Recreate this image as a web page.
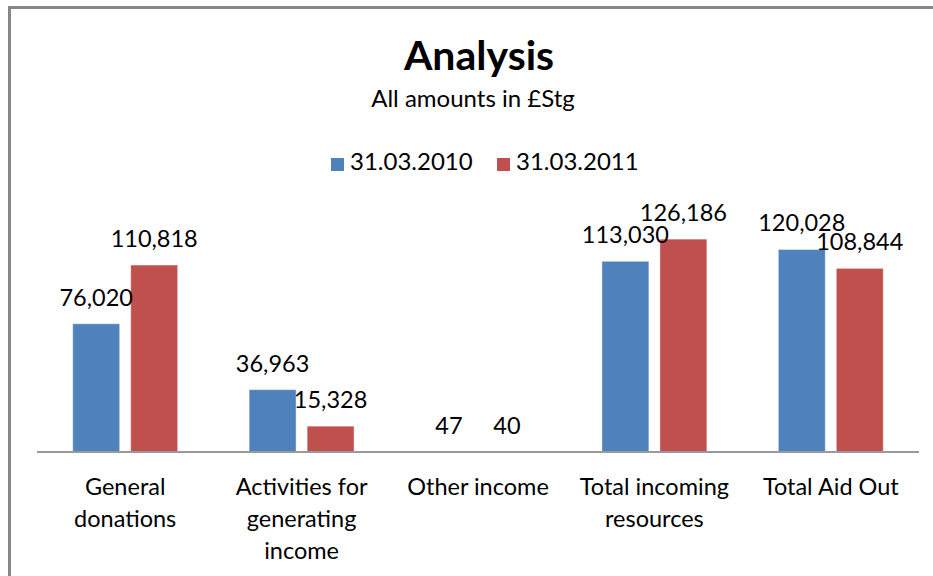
<!DOCTYPE html>
<html>
<head>
<meta charset="utf-8">
<script src="https://cdn.jsdelivr.net/npm/d3@7"></script>
<style>
  body { margin: 0; background: #fff; }
  svg { display: block; font-family: Lato, "Open Sans", sans-serif; }
</style>
</head>
<body>
<div class="chart"></div>
<script>
// data
const categories = [
  ["General", "donations"],
  ["Activities for", "generating", "income"],
  ["Other income"],
  ["Total incoming", "resources"],
  ["Total Aid Out"]
];
const seriesNames = ["31.03.2010", "31.03.2011"];
const values2010 = [76020, 36963, 47, 113030, 120028];
const values2011 = [110818, 15328, 40, 126186, 108844];
const colors = ["#4F81BD", "#C0504D"];

function main() {
  //setting
  const width = 933;
  const height = 576;
  const baseline = 452;
  const plotLeft = 37;
  const plotRight = 919;

  const svg = d3
    .select(".chart")
    .append("svg")
    .attr("width", width)
    .attr("height", height);

  //frame
  svg
    .append("rect")
    .attr("x", 9.5)
    .attr("y", 7.5)
    .attr("width", 1000)
    .attr("height", 1000)
    .style("fill", "#fff")
    .style("stroke", "#878787")
    .style("stroke-width", 3);

  //scales
  const keys = categories.map((d, i) => i);
  const x0 = d3
    .scaleBand()
    .domain(keys)
    .range([plotLeft, plotRight])
    .padding(0);
  const x1 = d3
    .scaleBand()
    .domain([0, 1])
    .range([0, x0.bandwidth()])
    .paddingInner(0.19)
    .paddingOuter(0.616);
  const y = d3
    .scaleLinear()
    .domain([0, 140000])
    .range([baseline, baseline - 236.2]);

  //titles
  svg
    .append("text")
    .attr("x", 479)
    .attr("y", 70)
    .attr("text-anchor", "middle")
    .style("font-size", "41px")
    .style("font-weight", "bold")
    .style("fill", "#000")
    .text("Analysis");
  svg
    .append("text")
    .attr("x", 473)
    .attr("y", 107)
    .attr("text-anchor", "middle")
    .style("font-size", "24px")
    .style("fill", "#000")
    .text("All amounts in £Stg");

  //legend
  const legendX = [331, 497];
  const legend = svg
    .selectAll(".legend")
    .data(seriesNames)
    .enter()
    .append("g")
    .attr("class", "legend")
    .attr("transform", (d, i) => "translate(" + legendX[i] + ",158)");
  legend
    .append("rect")
    .attr("width", 13)
    .attr("height", 13)
    .style("fill", (d, i) => colors[i]);
  legend
    .append("text")
    .attr("x", 19)
    .attr("y", 12)
    .style("font-size", "24px")
    .style("fill", "#000")
    .text(d => d);

  //bars
  const rows = keys.map(i => [values2010[i], values2011[i]]);
  const groups = svg
    .selectAll(".group")
    .data(rows)
    .enter()
    .append("g")
    .attr("class", "group")
    .attr("transform", (d, i) => "translate(" + x0(i) + ",0)");

  groups
    .selectAll("rect")
    .data(d => d.map((v, s) => ({ v, s })))
    .enter()
    .append("rect")
    .attr("x", d => x1(d.s))
    .attr("y", d => y(d.v))
    .attr("width", x1.bandwidth())
    .attr("height", d => baseline - y(d.v))
    .style("fill", d => colors[d.s])
    .style("stroke", d => (d.v > 1000 ? "rgba(255,255,255,0.45)" : "none"))
    .style("stroke-width", 1);

  //value labels
  groups
    .selectAll(".val")
    .data(d => d.map((v, s) => ({ v, s })))
    .enter()
    .append("text")
    .attr("class", "val")
    .attr("x", d => x1(d.s) + x1.bandwidth() / 2)
    .attr("y", d => y(d.v) - 18)
    .attr("text-anchor", "middle")
    .style("font-size", "23.5px")
    .style("fill", "#000")
    .text(d => d3.format(",")(d.v));

  //axis line
  svg
    .append("line")
    .attr("x1", plotLeft)
    .attr("x2", plotRight)
    .attr("y1", baseline)
    .attr("y2", baseline)
    .style("stroke", "#9a9a9a")
    .style("stroke-width", 2);

  //category labels
  const catLabels = svg
    .selectAll(".cat")
    .data(categories)
    .enter()
    .append("text")
    .attr("class", "cat")
    .attr("text-anchor", "middle")
    .style("font-size", "23.5px")
    .style("fill", "#000");
  catLabels
    .selectAll("tspan")
    .data((d, i) => d.map(line => ({ line, i })))
    .enter()
    .append("tspan")
    .attr("x", d => x0(d.i) + x0.bandwidth() / 2)
    .attr("y", (d, j) => 495 + j * 32)
    .text(d => d.line);
}

main();
</script>
</body>
</html>
